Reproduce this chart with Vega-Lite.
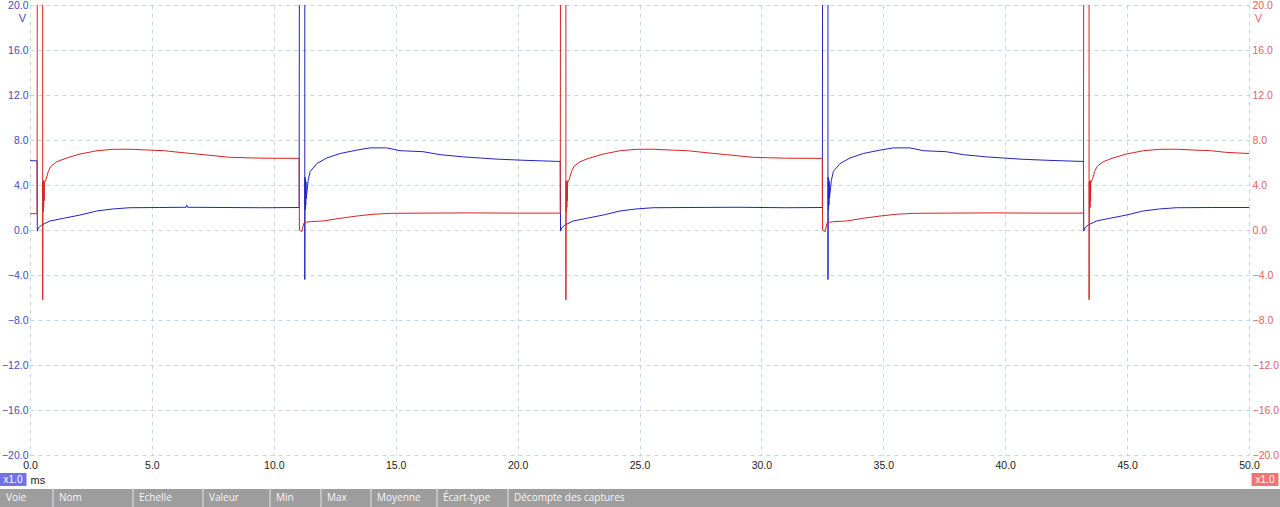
{
  "$schema": "https://vega.github.io/schema/vega-lite/v6.json",
  "width": 1219,
  "height": 450,
  "autosize": {"type": "none"},
  "padding": {"left": 30, "top": 5, "right": 31, "bottom": 52},
  "background": "white",
  "config": {
    "view": {"stroke": null},
    "axis": {
      "ticks": false,
      "domain": false,
      "labelFont": "Liberation Sans",
      "labelFontSize": 10.5,
      "titleFont": "Liberation Sans",
      "titleFontSize": 11,
      "titleFontWeight": "normal",
      "gridColor": "#bfd6ea",
      "gridDash": [4, 4],
      "gridWidth": 1,
      "gridOpacity": 1
    }
  },
  "datasets": {
    "traces": [
      {"voie": "A", "t": 0, "v": 6.16}, {"voie": "A", "t": 0.29, "v": 6.15}, {"voie": "A", "t": 0.30, "v": -0.1}, {"voie": "A", "t": 0.35, "v": 0.2}, {"voie": "A", "t": 0.48, "v": 0.44}, {"voie": "A", "t": 0.82, "v": 0.8}, {"voie": "A", "t": 1.37, "v": 1.04}, {"voie": "A", "t": 2.05, "v": 1.33}, {"voie": "A", "t": 2.74, "v": 1.69}, {"voie": "A", "t": 3.40, "v": 1.87}, {"voie": "A", "t": 4.10, "v": 1.98}, {"voie": "A", "t": 5.3, "v": 2.0}, {"voie": "A", "t": 6.4, "v": 2.02}, {"voie": "A", "t": 6.43, "v": 2.2}, {"voie": "A", "t": 6.46, "v": 2.02}, {"voie": "A", "t": 8.0, "v": 2.0}, {"voie": "A", "t": 9.5, "v": 1.98}, {"voie": "A", "t": 11.04, "v": 2.0},
      {"voie": "A", "t": 11.05, "v": 25}, {"voie": "A", "t": 11.27, "v": 25}, {"voie": "A", "t": 11.271, "v": -4.4}, {"voie": "A", "t": 11.28, "v": 4.7}, {"voie": "A", "t": 11.29, "v": 1.8}, {"voie": "A", "t": 11.30, "v": 4.5}, {"voie": "A", "t": 11.31, "v": 2.2}, {"voie": "A", "t": 11.32, "v": 4.3}, {"voie": "A", "t": 11.33, "v": 2.8}, {"voie": "A", "t": 11.41, "v": 4.4}, {"voie": "A", "t": 11.49, "v": 5.2}, {"voie": "A", "t": 11.76, "v": 5.9}, {"voie": "A", "t": 12.17, "v": 6.4}, {"voie": "A", "t": 12.72, "v": 6.8}, {"voie": "A", "t": 13.40, "v": 7.1}, {"voie": "A", "t": 13.95, "v": 7.3}, {"voie": "A", "t": 14.63, "v": 7.3}, {"voie": "A", "t": 15.18, "v": 7.05}, {"voie": "A", "t": 16.12, "v": 6.96}, {"voie": "A", "t": 16.82, "v": 6.7}, {"voie": "A", "t": 17.77, "v": 6.5}, {"voie": "A", "t": 18.47, "v": 6.4}, {"voie": "A", "t": 19.15, "v": 6.3}, {"voie": "A", "t": 20.23, "v": 6.2}, {"voie": "A", "t": 21.61, "v": 6.1}, {"voie": "A", "t": 21.75, "v": 6.1},
      {"voie": "A", "t": 21.76, "v": -0.1}, {"voie": "A", "t": 21.81, "v": 0.2}, {"voie": "A", "t": 21.94, "v": 0.44}, {"voie": "A", "t": 22.28, "v": 0.8}, {"voie": "A", "t": 22.83, "v": 1.04}, {"voie": "A", "t": 23.51, "v": 1.33}, {"voie": "A", "t": 24.20, "v": 1.69}, {"voie": "A", "t": 24.86, "v": 1.87}, {"voie": "A", "t": 25.56, "v": 1.98}, {"voie": "A", "t": 27.0, "v": 2.0}, {"voie": "A", "t": 29.0, "v": 2.02}, {"voie": "A", "t": 31.0, "v": 1.98}, {"voie": "A", "t": 32.50, "v": 2.0},
      {"voie": "A", "t": 32.51, "v": 25}, {"voie": "A", "t": 32.73, "v": 25}, {"voie": "A", "t": 32.731, "v": -4.4}, {"voie": "A", "t": 32.74, "v": 4.7}, {"voie": "A", "t": 32.75, "v": 1.8}, {"voie": "A", "t": 32.76, "v": 4.5}, {"voie": "A", "t": 32.77, "v": 2.2}, {"voie": "A", "t": 32.78, "v": 4.3}, {"voie": "A", "t": 32.79, "v": 2.8}, {"voie": "A", "t": 32.87, "v": 4.4}, {"voie": "A", "t": 32.95, "v": 5.2}, {"voie": "A", "t": 33.22, "v": 5.9}, {"voie": "A", "t": 33.63, "v": 6.4}, {"voie": "A", "t": 34.18, "v": 6.8}, {"voie": "A", "t": 34.86, "v": 7.1}, {"voie": "A", "t": 35.41, "v": 7.3}, {"voie": "A", "t": 36.09, "v": 7.3}, {"voie": "A", "t": 36.64, "v": 7.05}, {"voie": "A", "t": 37.58, "v": 6.96}, {"voie": "A", "t": 38.28, "v": 6.7}, {"voie": "A", "t": 39.23, "v": 6.5}, {"voie": "A", "t": 39.93, "v": 6.4}, {"voie": "A", "t": 40.61, "v": 6.3}, {"voie": "A", "t": 41.69, "v": 6.2}, {"voie": "A", "t": 43.07, "v": 6.1}, {"voie": "A", "t": 43.21, "v": 6.1},
      {"voie": "A", "t": 43.22, "v": -0.1}, {"voie": "A", "t": 43.27, "v": 0.2}, {"voie": "A", "t": 43.40, "v": 0.44}, {"voie": "A", "t": 43.74, "v": 0.8}, {"voie": "A", "t": 44.29, "v": 1.04}, {"voie": "A", "t": 44.97, "v": 1.33}, {"voie": "A", "t": 45.66, "v": 1.69}, {"voie": "A", "t": 46.32, "v": 1.87}, {"voie": "A", "t": 47.02, "v": 1.98}, {"voie": "A", "t": 48.5, "v": 2.0}, {"voie": "A", "t": 50.0, "v": 2.0},
      {"voie": "B", "t": 0, "v": 1.45}, {"voie": "B", "t": 0.29, "v": 1.45}, {"voie": "B", "t": 0.30, "v": 25}, {"voie": "B", "t": 0.52, "v": 25}, {"voie": "B", "t": 0.521, "v": -6.2}, {"voie": "B", "t": 0.53, "v": 4.3}, {"voie": "B", "t": 0.54, "v": 1.6}, {"voie": "B", "t": 0.55, "v": 4.0}, {"voie": "B", "t": 0.56, "v": 2.0}, {"voie": "B", "t": 0.57, "v": 4.4}, {"voie": "B", "t": 0.58, "v": 2.6}, {"voie": "B", "t": 0.59, "v": 4.2}, {"voie": "B", "t": 0.66, "v": 4.5}, {"voie": "B", "t": 0.75, "v": 5.2}, {"voie": "B", "t": 0.85, "v": 5.65}, {"voie": "B", "t": 1.10, "v": 6.07}, {"voie": "B", "t": 1.50, "v": 6.4}, {"voie": "B", "t": 2.05, "v": 6.75}, {"voie": "B", "t": 2.75, "v": 7.05}, {"voie": "B", "t": 3.40, "v": 7.17}, {"voie": "B", "t": 4.10, "v": 7.18}, {"voie": "B", "t": 4.90, "v": 7.1}, {"voie": "B", "t": 5.50, "v": 7.05}, {"voie": "B", "t": 6.15, "v": 6.9}, {"voie": "B", "t": 7.10, "v": 6.7}, {"voie": "B", "t": 8.20, "v": 6.46}, {"voie": "B", "t": 9.60, "v": 6.38}, {"voie": "B", "t": 11.04, "v": 6.37},
      {"voie": "B", "t": 11.05, "v": 0.0}, {"voie": "B", "t": 11.15, "v": -0.15}, {"voie": "B", "t": 11.23, "v": 0.6}, {"voie": "B", "t": 11.35, "v": 0.7}, {"voie": "B", "t": 11.49, "v": 0.74}, {"voie": "B", "t": 12.02, "v": 0.8}, {"voie": "B", "t": 12.72, "v": 1.04}, {"voie": "B", "t": 13.40, "v": 1.24}, {"voie": "B", "t": 14.07, "v": 1.4}, {"voie": "B", "t": 14.77, "v": 1.48}, {"voie": "B", "t": 16.0, "v": 1.5}, {"voie": "B", "t": 18.0, "v": 1.52}, {"voie": "B", "t": 20.0, "v": 1.5}, {"voie": "B", "t": 21.75, "v": 1.5},
      {"voie": "B", "t": 21.76, "v": 25}, {"voie": "B", "t": 21.98, "v": 25}, {"voie": "B", "t": 21.981, "v": -6.2}, {"voie": "B", "t": 21.99, "v": 4.3}, {"voie": "B", "t": 22.00, "v": 1.6}, {"voie": "B", "t": 22.01, "v": 4.0}, {"voie": "B", "t": 22.02, "v": 2.0}, {"voie": "B", "t": 22.03, "v": 4.4}, {"voie": "B", "t": 22.04, "v": 2.6}, {"voie": "B", "t": 22.05, "v": 4.2}, {"voie": "B", "t": 22.12, "v": 4.5}, {"voie": "B", "t": 22.21, "v": 5.2}, {"voie": "B", "t": 22.31, "v": 5.65}, {"voie": "B", "t": 22.56, "v": 6.07}, {"voie": "B", "t": 22.96, "v": 6.4}, {"voie": "B", "t": 23.51, "v": 6.75}, {"voie": "B", "t": 24.21, "v": 7.05}, {"voie": "B", "t": 24.86, "v": 7.17}, {"voie": "B", "t": 25.56, "v": 7.18}, {"voie": "B", "t": 26.36, "v": 7.1}, {"voie": "B", "t": 26.96, "v": 7.05}, {"voie": "B", "t": 27.61, "v": 6.9}, {"voie": "B", "t": 28.56, "v": 6.7}, {"voie": "B", "t": 29.66, "v": 6.46}, {"voie": "B", "t": 31.06, "v": 6.38}, {"voie": "B", "t": 32.50, "v": 6.37},
      {"voie": "B", "t": 32.51, "v": 0.0}, {"voie": "B", "t": 32.61, "v": -0.15}, {"voie": "B", "t": 32.69, "v": 0.6}, {"voie": "B", "t": 32.81, "v": 0.7}, {"voie": "B", "t": 32.95, "v": 0.74}, {"voie": "B", "t": 33.48, "v": 0.8}, {"voie": "B", "t": 34.18, "v": 1.04}, {"voie": "B", "t": 34.86, "v": 1.24}, {"voie": "B", "t": 35.53, "v": 1.4}, {"voie": "B", "t": 36.23, "v": 1.48}, {"voie": "B", "t": 37.5, "v": 1.5}, {"voie": "B", "t": 39.5, "v": 1.52}, {"voie": "B", "t": 41.5, "v": 1.5}, {"voie": "B", "t": 43.21, "v": 1.5},
      {"voie": "B", "t": 43.22, "v": 25}, {"voie": "B", "t": 43.44, "v": 25}, {"voie": "B", "t": 43.441, "v": -6.2}, {"voie": "B", "t": 43.45, "v": 4.3}, {"voie": "B", "t": 43.46, "v": 1.6}, {"voie": "B", "t": 43.47, "v": 4.0}, {"voie": "B", "t": 43.48, "v": 2.0}, {"voie": "B", "t": 43.49, "v": 4.4}, {"voie": "B", "t": 43.50, "v": 2.6}, {"voie": "B", "t": 43.51, "v": 4.2}, {"voie": "B", "t": 43.58, "v": 4.5}, {"voie": "B", "t": 43.67, "v": 5.2}, {"voie": "B", "t": 43.77, "v": 5.65}, {"voie": "B", "t": 44.02, "v": 6.07}, {"voie": "B", "t": 44.42, "v": 6.4}, {"voie": "B", "t": 44.97, "v": 6.75}, {"voie": "B", "t": 45.67, "v": 7.05}, {"voie": "B", "t": 46.32, "v": 7.17}, {"voie": "B", "t": 47.02, "v": 7.18}, {"voie": "B", "t": 47.82, "v": 7.1}, {"voie": "B", "t": 48.42, "v": 7.05}, {"voie": "B", "t": 49.07, "v": 6.9}, {"voie": "B", "t": 50.0, "v": 6.8}
    ],
    "colonnes": [
      {"nom": "Voie", "i": 0, "j": 1},
      {"nom": "Nom", "i": 1, "j": 2},
      {"nom": "Echelle", "i": 2, "j": 3},
      {"nom": "Valeur", "i": 3, "j": 4},
      {"nom": "Min", "i": 4, "j": 5},
      {"nom": "Max", "i": 5, "j": 6},
      {"nom": "Moyenne", "i": 6, "j": 7},
      {"nom": "Écart-type", "i": 7, "j": 8},
      {"nom": "Décompte des captures", "i": 8, "j": 9}
    ],
    "badges": [
      {"voie": "A", "zoom": "x1.0"},
      {"voie": "B", "zoom": "x1.0"}
    ]
  },
  "resolve": {"scale": {"x": "independent", "y": "independent", "color": "independent"}},
  "layer": [
    {
      "data": {"name": "traces"},
      "transform": [{"filter": "datum.voie === 'A'"}],
      "mark": {"type": "line", "clip": true, "color": "#2424c4", "strokeWidth": 1},
      "encoding": {
        "x": {
          "field": "t", "type": "quantitative",
          "scale": {"domain": [0, 50], "nice": false, "zero": false},
          "axis": {
            "values": [0, 5, 10, 15, 20, 25, 30, 35, 40, 45, 50],
            "format": ".1f", "grid": true, "labelFlush": false, "labelOverlap": false,
            "labelPadding": 5, "labelColor": "#222222",
            "title": "ms", "titleX": 0, "titleY": 25, "titleAlign": "left", "titleBaseline": "middle", "titleColor": "#222222"
          }
        },
        "y": {
          "field": "v", "type": "quantitative",
          "scale": {"domain": [-20, 20], "nice": false, "zero": false},
          "axis": {
            "orient": "left",
            "values": [-20, -16, -12, -8, -4, 0, 4, 8, 12, 16, 20],
            "format": ".1f", "grid": true, "labelFlush": false, "labelOverlap": false,
            "labelPadding": 2, "labelColor": "#4a4ab8",
            "title": "V", "titleAngle": 0, "titleX": -8, "titleY": 13, "titleAlign": "center", "titleBaseline": "middle", "titleColor": "#4a4ab8"
          }
        }
      }
    },
    {
      "data": {"name": "traces"},
      "transform": [{"filter": "datum.voie === 'B'"}],
      "mark": {"type": "line", "clip": true, "color": "#d82424", "strokeWidth": 1},
      "encoding": {
        "x": {
          "field": "t", "type": "quantitative",
          "scale": {"domain": [0, 50], "nice": false, "zero": false},
          "axis": null
        },
        "y": {
          "field": "v", "type": "quantitative",
          "scale": {"domain": [-20, 20], "nice": false, "zero": false},
          "axis": {
            "orient": "right",
            "values": [-20, -16, -12, -8, -4, 0, 4, 8, 12, 16, 20],
            "format": ".1f", "grid": false, "labelFlush": false, "labelOverlap": false,
            "labelPadding": 3, "labelColor": "#e06464",
            "title": "V", "titleAngle": 0, "titleX": 9, "titleY": 13, "titleAlign": "center", "titleBaseline": "middle", "titleColor": "#e06464"
          }
        }
      }
    },
    {
      "data": {"name": "colonnes"},
      "encoding": {
        "x": {
          "field": "i", "type": "quantitative",
          "scale": {"domain": [0, 1, 2, 3, 4, 5, 6, 7, 8, 9], "range": [-30, 23, 103, 173, 240, 291, 341, 407, 478, 1250], "nice": false, "zero": false},
          "axis": null
        }
      },
      "layer": [
        {
          "mark": {"type": "rect", "color": "#9d9d9d"},
          "encoding": {
            "x2": {"field": "j"},
            "y": {"datum": 0, "type": "quantitative", "scale": {"domain": [0, 1], "range": [502, 484], "nice": false, "zero": false}, "axis": null},
            "y2": {"datum": 1}
          }
        },
        {
          "transform": [{"filter": "datum.i > 0"}],
          "mark": {"type": "rule", "color": "#e4e4e4", "strokeWidth": 1},
          "encoding": {
            "y": {"datum": 0, "type": "quantitative", "scale": {"domain": [0, 1], "range": [502, 484], "nice": false, "zero": false}, "axis": null},
            "y2": {"datum": 1}
          }
        },
        {
          "mark": {"type": "text", "align": "left", "baseline": "middle", "dx": 6, "color": "#f6f6f6", "fontSize": 10, "font": "Open Sans"},
          "encoding": {
            "text": {"field": "nom"},
            "y": {"datum": 0.5, "type": "quantitative", "scale": {"domain": [0, 1], "range": [502, 484], "nice": false, "zero": false}, "axis": null}
          }
        }
      ]
    },
    {
      "data": {"name": "badges"},
      "encoding": {
        "x": {"field": "voie", "type": "nominal", "scale": {"type": "point", "domain": ["A", "B"], "range": [-17, 1235], "padding": 0}, "axis": null},
        "y": {"field": "zoom", "type": "nominal", "scale": {"type": "point", "range": [474.5, 474.5], "padding": 0}, "axis": null}
      },
      "layer": [
        {
          "mark": {"type": "rect", "width": 27, "height": 13},
          "encoding": {
            "color": {"field": "voie", "type": "nominal", "scale": {"domain": ["A", "B"], "range": ["#7272e8", "#f07474"]}, "legend": null}
          }
        },
        {
          "mark": {"type": "text", "color": "white", "fontSize": 10, "align": "center", "baseline": "middle", "font": "Liberation Sans"},
          "encoding": {"text": {"field": "zoom"}}
        }
      ]
    }
  ]
}
